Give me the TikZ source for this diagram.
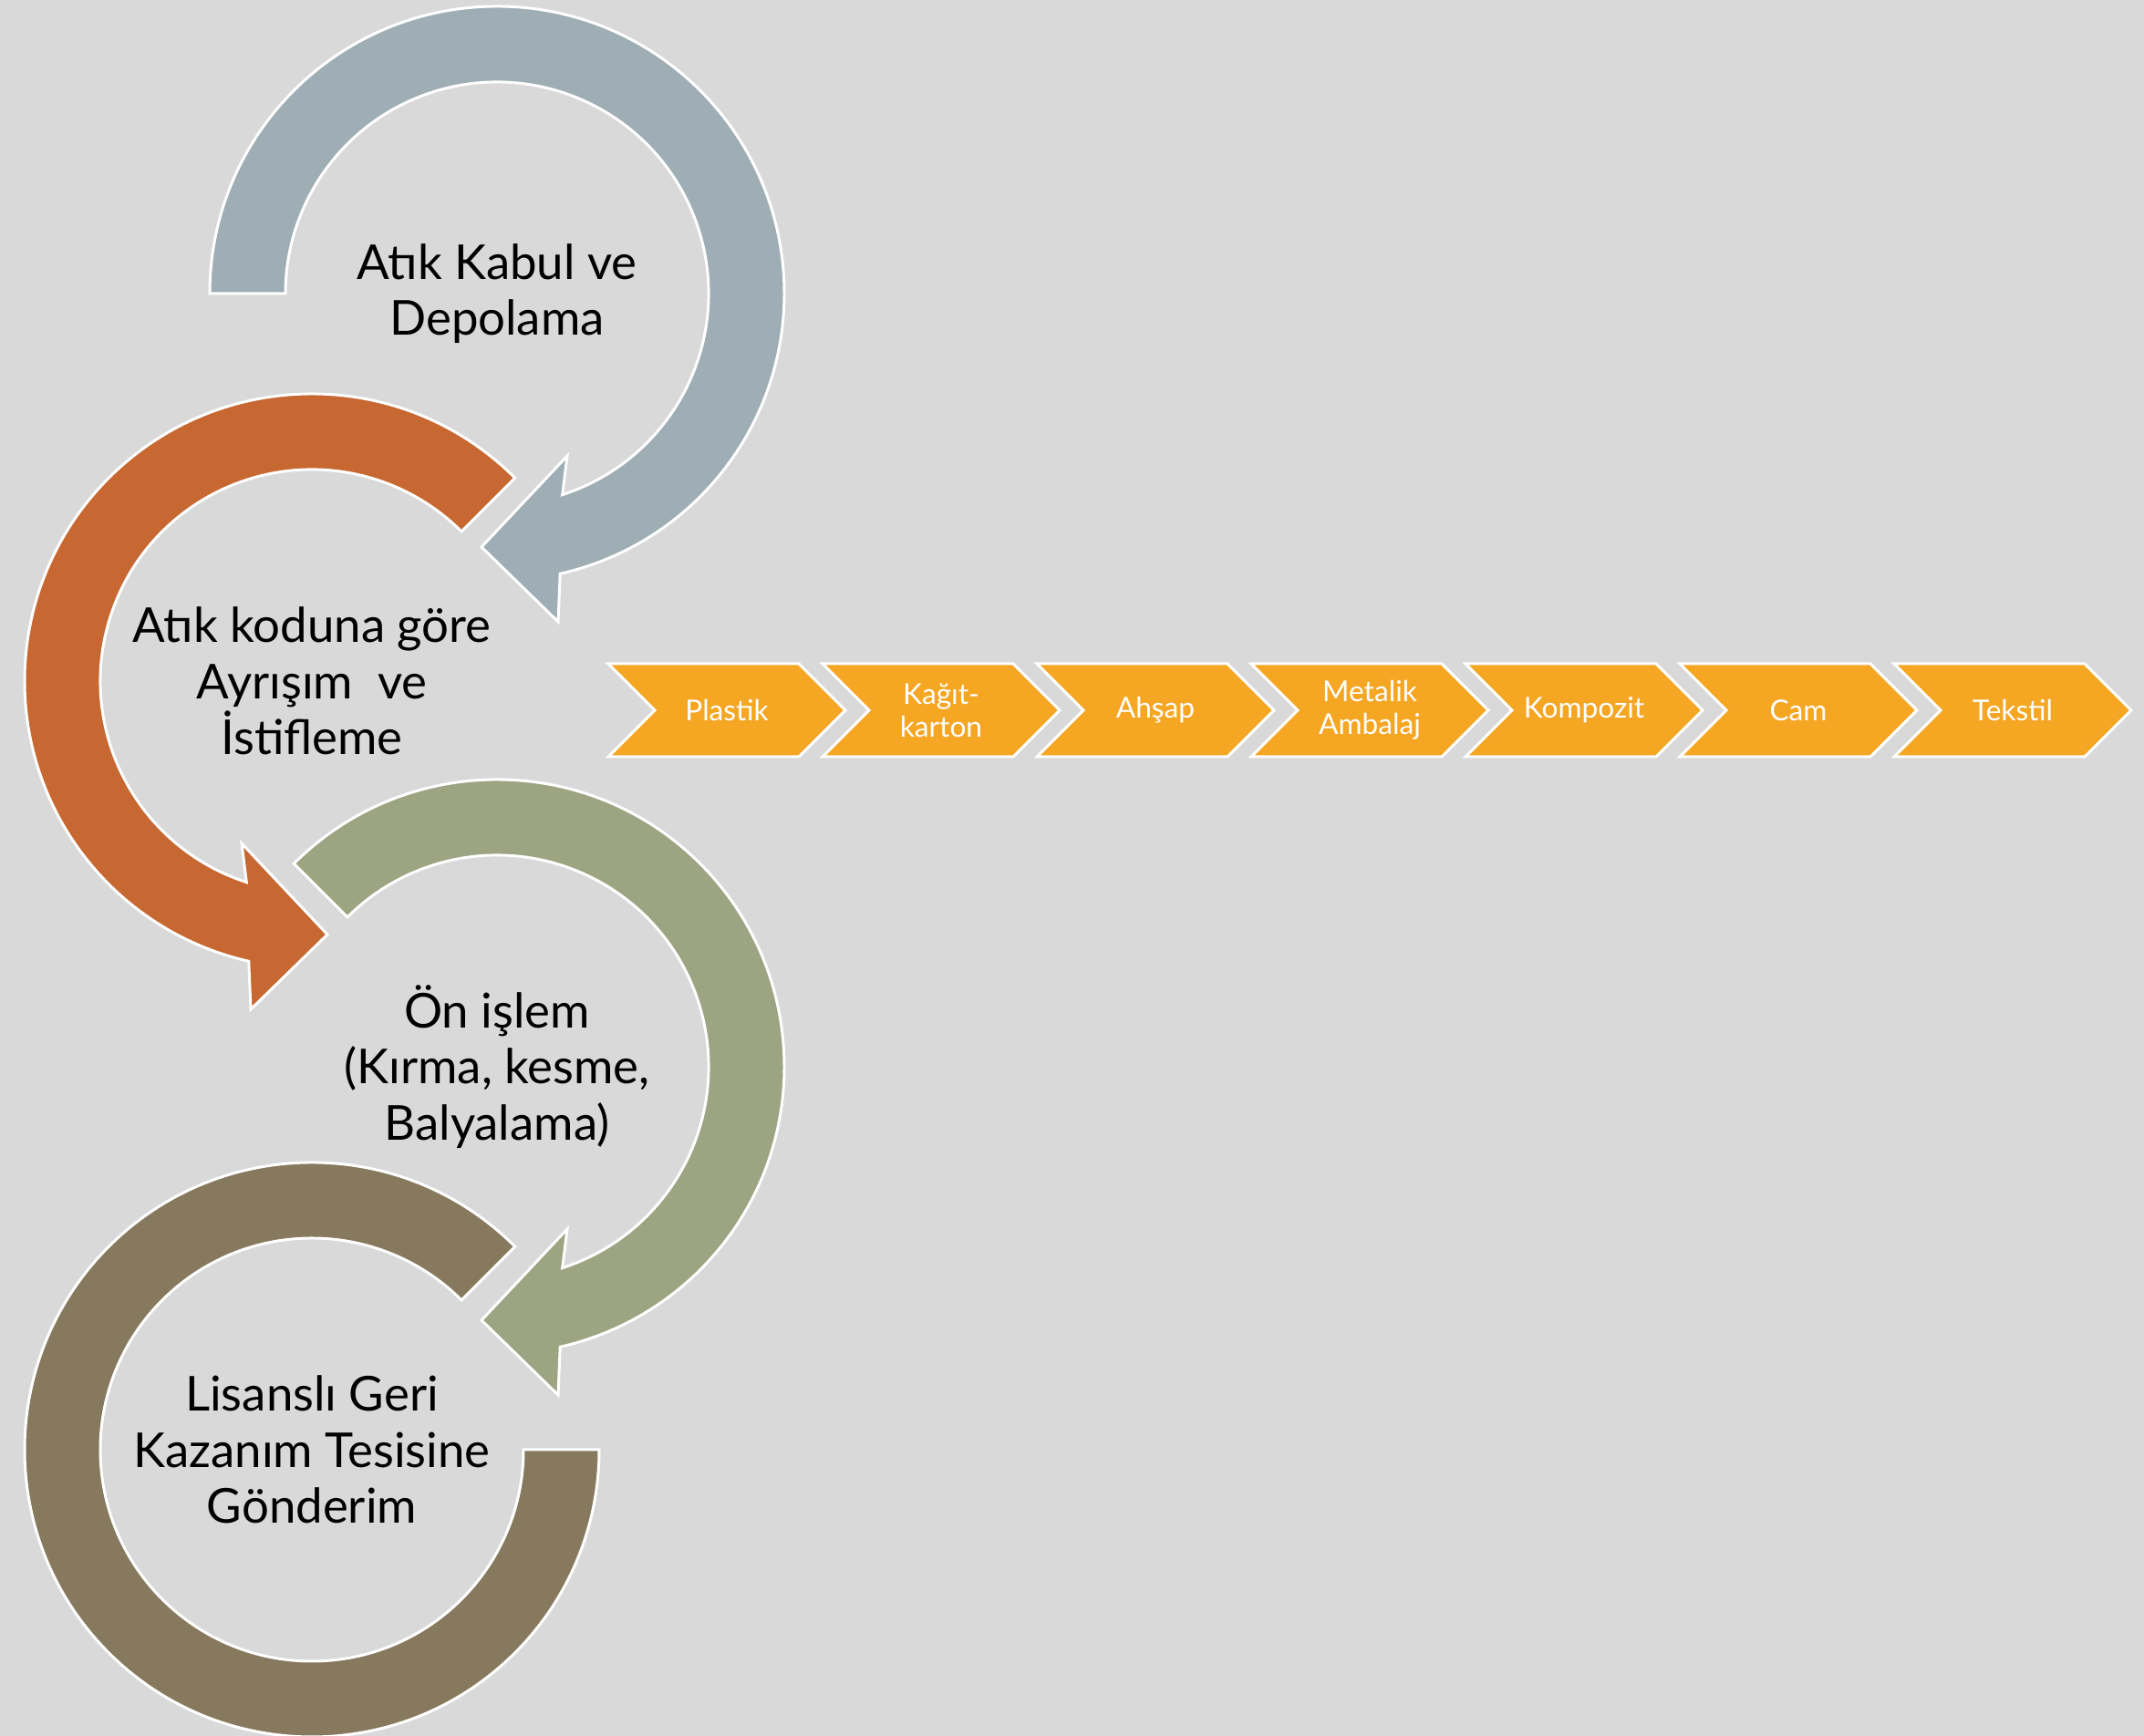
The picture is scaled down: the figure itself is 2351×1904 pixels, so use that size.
\documentclass[tikz,border=0pt]{standalone}
\usepackage{fontspec}
\setmainfont{Lato}
\usepackage{tikz}
\usetikzlibrary{positioning}
\definecolor{bggray}{HTML}{D9D9D9}
\definecolor{slate}{HTML}{9EAEB4}
\definecolor{rust}{HTML}{C76731}
\definecolor{sage}{HTML}{9DA482}
\definecolor{umber}{HTML}{87795D}
\definecolor{amber}{HTML}{F5A623}

\begin{document}
\begin{tikzpicture}[x=0.01cm,y=0.01cm,
    ring/.style={draw=white,line width=0.85pt},
    steptext/.style={align=center,font=\fontsize{15}{17.5}\selectfont,text=black},
    chevtext/.style={align=center,font=\fontsize{9}{10.2}\selectfont,text=white}]
  \fill[bggray] (0,0) rectangle (2351,1904);
  \useasboundingbox (0,0) rectangle (2351,1904);
  \coordinate (c1) at (545,1582);
  \coordinate (c2) at (342,1157);
  \coordinate (c3) at (545,734);
  \coordinate (c4) at (342,314);
  % circular arrows
  \begin{scope}[shift={(c1)}]
    \path[ring,fill=slate] (180:315) arc[start angle=180,end angle=-77.3,radius=315]
      -- (67,-360) -- (-17,-278) -- (77,-178) -- (-72:232)
      arc[start angle=-72,end angle=180,radius=232] -- cycle;
  \end{scope}
  \begin{scope}[shift={(c2)}]
    \path[ring,fill=rust] (45:315) arc[start angle=45,end angle=257.3,radius=315]
      -- (-67,-360) -- (17,-278) -- (-77,-178) -- (252:232)
      arc[start angle=252,end angle=45,radius=232] -- cycle;
  \end{scope}
  \begin{scope}[shift={(c3)}]
    \path[ring,fill=sage] (135:315) arc[start angle=135,end angle=-77.3,radius=315]
      -- (67,-360) -- (-17,-278) -- (77,-178) -- (-72:232)
      arc[start angle=-72,end angle=135,radius=232] -- cycle;
  \end{scope}
  \begin{scope}[shift={(c4)}]
    \path[ring,fill=umber] (45:315) arc[start angle=45,end angle=360,radius=315]
      -- (0:232) arc[start angle=360,end angle=45,radius=232] -- cycle;
  \end{scope}
  \node[steptext] (kabul) at (c1) {Atık Kabul ve\\Depolama};
  \node[steptext] (ayrisim) at (c2) {Atık koduna göre\\Ayrışım \ ve\\İstifleme};
  \node[steptext] (onislem) at (c3) {Ön işlem\\(Kırma, kesme,\\Balyalama)};
  \node[steptext] (gonderim) at (c4) {Lisanslı Geri\\Kazanım Tesisine\\Gönderim};
  % chevrons
  \foreach \lbl [count=\i from 0] in {Plastik,Kağıt-\\karton,Ahşap,Metalik\\Ambalaj,Kompozit,Cam,Tekstil}{
    \path[ring,fill=amber] ({667+235*\i},1176) -- ++(209,0) -- ++(51,-51) -- ++(-51,-51)
      -- ++(-209,0) -- ++(51,51) -- cycle;
    \node[chevtext] (ch\i) at ({797+235*\i},1125) {\lbl};
  }
\end{tikzpicture}
\end{document}
